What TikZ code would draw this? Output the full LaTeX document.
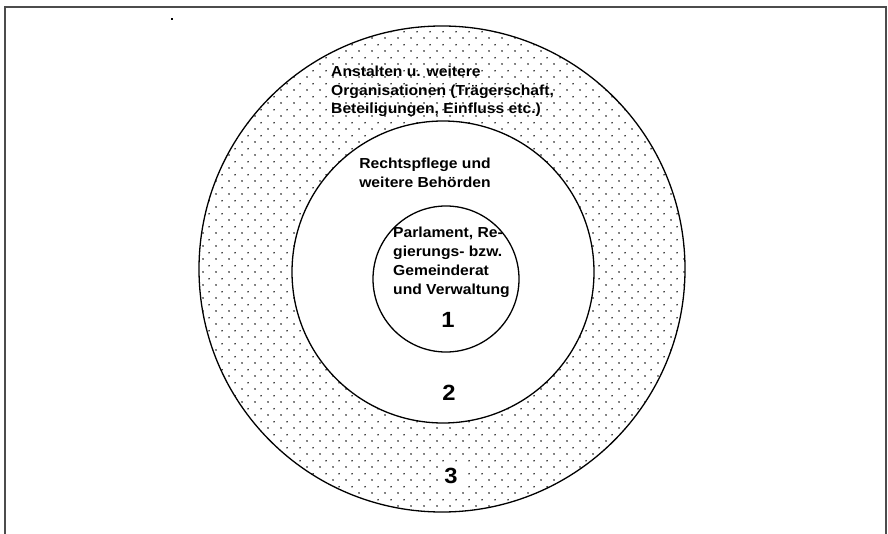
\documentclass[tikz,border=0pt]{standalone}
\usepackage{fontspec}
\setmainfont{Liberation Sans}[FakeStretch=1.08]
\usetikzlibrary{patterns.meta}

\tikzdeclarepattern{
  name=ringdots,
  tile size={(12.5pt,12.6pt)},
  bottom left={(0pt,0pt)}, top right={(12.5pt,12.6pt)},
  code={
    \fill (3.125pt,3.15pt) circle (0.85pt);
    \fill (9.375pt,9.45pt) circle (0.85pt);
  }
}

\begin{document}
\begin{tikzpicture}[x=1pt,y=-1pt]
\tikzstyle{every node}+=[inner sep=0pt]
\tikzstyle{ringtext}=[font=\bfseries\fontsize{14.5}{18.5}\selectfont]
\tikzstyle{ringnum}=[font=\bfseries\fontsize{22}{24}\selectfont]
\useasboundingbox (0,0) rectangle (888,534);
% frame, open at the bottom
\draw [black!70, line width=1.4pt] (5,534) -- (5,7) -- (886,7) -- (886,534);
\fill [black] (171.3,18.3) rectangle (173,20);
% dotted ring 3
\fill [pattern=ringdots, pattern color=black, even odd rule] (442,269) circle (243pt) (443,272) circle (151pt);
\draw [black, line width=1.3pt] (442,269) circle (243pt);
\draw [black, line width=1.3pt] (443,272) circle (151pt);
\draw [black, line width=1.3pt] (446,279) circle (73pt);
% labels
\node (outer) [ringtext, anchor=north west, align=left] at (331,66) {Anstalten u. weitere\\Organisationen (Trägerschaft,\\Beteiligungen, Einfluss etc.)};
\node (middle) [ringtext, anchor=north, align=center, font=\bfseries\fontsize{14.5}{19}\selectfont] at (425,158) {Rechtspflege und\\weitere Behörden};
\node (inner) [ringtext, anchor=north west, align=left, font=\bfseries\fontsize{14.5}{19}\selectfont] at (393,227) {Parlament, Re-\\gierungs- bzw.\\Gemeinderat\\und Verwaltung};
\node (one) [ringnum] at (448,320) {1};
\node (two) [ringnum] at (449,393) {2};
\node (three) [ringnum, fill=white, minimum width=27pt, minimum height=26pt] at (451,476) {3};
\end{tikzpicture}
\end{document}
